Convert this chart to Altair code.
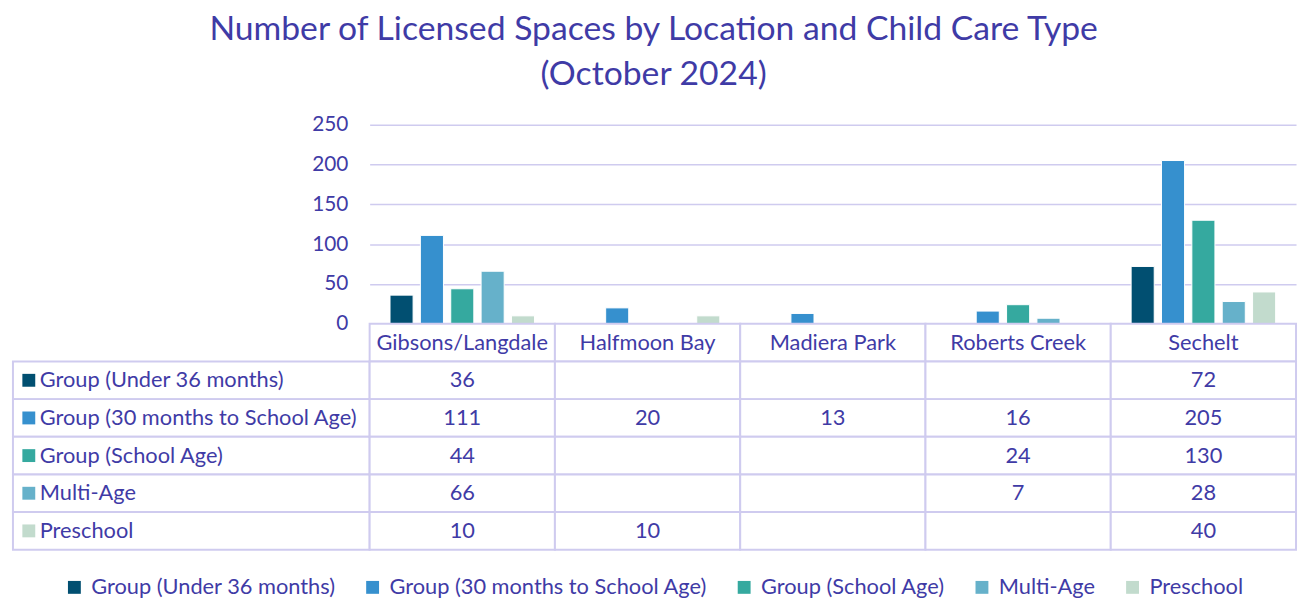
import altair as alt
import pandas as pd

locations = ["Gibsons/Langdale", "Halfmoon Bay", "Madiera Park", "Roberts Creek", "Sechelt"]
types = ["Group (Under 36 months)", "Group (30 months to School Age)",
         "Group (School Age)", "Multi-Age", "Preschool"]
under36 = [36, None, None, None, 72]
months30 = [111, 20, 13, 16, 205]
school_age = [44, None, None, 24, 130]
multi_age = [66, None, None, 7, 28]
preschool = [10, 10, None, None, 40]
colors = ["#014F71", "#3690CE", "#35A99F", "#66B1CA", "#C2DBCD"]
y_ticks = [0, 50, 100, 150, 200, 250]

TEXT = "#3F3BA6"
LINE = "#CFCBEF"
FONT = "Lato"
HDR = "__header__"
FS = 22

series = [under36, months30, school_age, multi_age, preschool]
rows = []
for t, vals in zip(types, series):
    for loc, v in zip(locations, vals):
        if v is not None:
            rows.append({"location": loc, "type": t, "value": v})
df = pd.DataFrame(rows)

row_domain = [HDR] + types
color_scale = alt.Scale(domain=types, range=colors)
legend = alt.Legend(
    title=None, orient="none", direction="horizontal", columns=5,
    legendX=51, legendY=456, symbolType="square", symbolSize=169,
    symbolStrokeWidth=0, labelFontSize=FS, labelFont=FONT, labelColor=TEXT,
    labelOffset=6, columnPadding=26, labelLimit=400,
)

# --- bar panel ---
bars = alt.Chart(df).mark_bar(stroke="white", strokeWidth=1).encode(
    x=alt.X("location:N", sort=locations, axis=None,
            scale=alt.Scale(domain=locations, paddingInner=0.22, paddingOuter=0.11)),
    xOffset=alt.XOffset("type:N", sort=types,
                        scale=alt.Scale(domain=types, paddingInner=0.24, paddingOuter=0)),
    y=alt.Y("value:Q", scale=alt.Scale(domain=[0, 250]),
            axis=alt.Axis(values=y_ticks, title=None, domain=False, ticks=False,
                          labelFontSize=21, labelColor=TEXT, labelFont=FONT,
                          labelPadding=22, gridColor=LINE, gridWidth=1.5)),
    color=alt.Color("type:N", scale=color_scale, legend=legend),
).properties(width=935, height=201)

spacer = alt.Chart(pd.DataFrame({"a": [0]})).mark_point(opacity=0).encode(
    x=alt.value(0), y=alt.value(0)
).properties(width=360, height=201)

# --- label column ---
y_tab = alt.Scale(domain=row_domain, paddingInner=0, paddingOuter=0)
lab_df = pd.DataFrame({"type": types})
lab_base = alt.Chart(lab_df).encode(
    y=alt.Y("type:N", scale=y_tab, axis=None, sort=row_domain)
)
lab_rect = lab_base.mark_rect(fill="white", stroke=LINE, strokeWidth=2)
lab_sq = lab_base.mark_square(size=169, opacity=1).encode(
    x=alt.value(16),
    color=alt.Color("type:N", scale=color_scale, legend=legend),
)
lab_txt = lab_base.mark_text(align="left", fontSize=FS, font=FONT, color=TEXT).encode(
    x=alt.value(27), text="type:N"
)
labels = alt.layer(lab_rect, lab_sq, lab_txt).properties(width=360, height=228)

# --- table body ---
x_tab = alt.Scale(domain=locations, paddingInner=0, paddingOuter=0)
cell_df = pd.DataFrame([{"location": l, "row": r} for r in row_domain for l in locations])
cells = alt.Chart(cell_df).mark_rect(fill="white", stroke=LINE, strokeWidth=2).encode(
    x=alt.X("location:N", scale=x_tab, axis=None, sort=locations),
    y=alt.Y("row:N", scale=y_tab, axis=None, sort=row_domain),
)
hdr_df = pd.DataFrame({"location": locations, "row": [HDR] * len(locations)})
hdr_txt = alt.Chart(hdr_df).mark_text(fontSize=FS, font=FONT, color=TEXT).encode(
    x=alt.X("location:N", scale=x_tab, axis=None, sort=locations),
    y=alt.Y("row:N", scale=y_tab, axis=None, sort=row_domain),
    text="location:N",
)
val_txt = alt.Chart(df).mark_text(fontSize=FS, font=FONT, color=TEXT).encode(
    x=alt.X("location:N", scale=x_tab, axis=None, sort=locations),
    y=alt.Y("type:N", scale=y_tab, axis=None, sort=row_domain),
    text="value:Q",
)
table = alt.layer(cells, hdr_txt, val_txt).properties(width=935, height=228)

chart = alt.concat(spacer, bars, labels, table, columns=2, spacing=0, bounds="flush").properties(
    title=alt.TitleParams(
        text=["Number of Licensed Spaces by Location and Child Care Type", "(October 2024)"],
        fontSize=34, font=FONT, color=TEXT, fontWeight="normal", anchor="middle",
        lineHeight=45, offset=22,
    ),
    padding={"left": 2, "right": 2, "top": 3, "bottom": 0},
).configure_view(strokeWidth=0)

chart.save("out.html", embed_options={"renderer": "svg", "actions": False})
